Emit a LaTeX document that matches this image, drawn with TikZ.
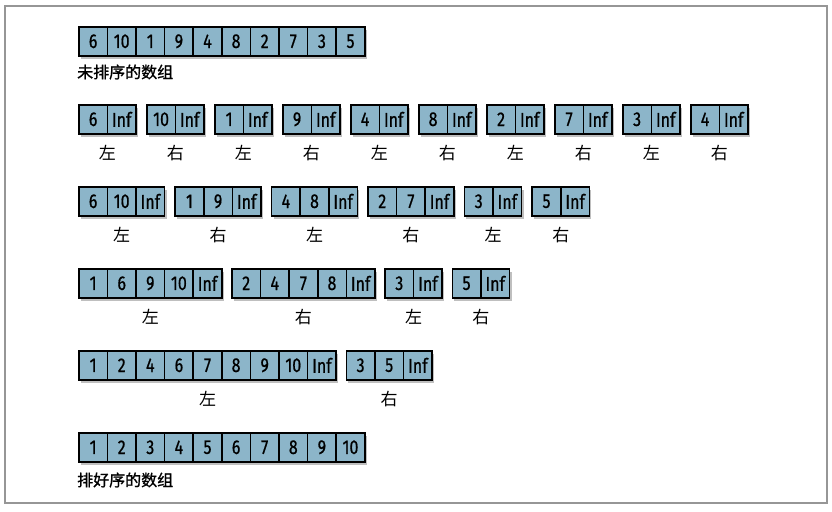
\documentclass[tikz,border=0pt]{standalone}
\usepackage{fontspec}
\newfontfamily\cjk{Noto Sans CJK SC}
\newfontfamily\cjkb[FakeBold=1.2]{Noto Sans CJK SC}
\newfontfamily\numfont[FakeStretch=0.8, FakeBold=0.7]{Fira Sans}
\usetikzlibrary{positioning,calc,shadows}
\definecolor{cellblue}{RGB}{140,181,201}
\definecolor{framegray}{RGB}{150,150,150}

\newcommand{\cellbox}[4]{%
  \node[arr, minimum width=#3*28.6pt, #2] (#1) {};
  \foreach \cv [count=\ci] in {#4}
    \node[cell, anchor=north west] (#1-\ci) at ($(#1.north west)+({(\ci-1)*28.6},0)$) {\cv};
}

\begin{document}
\begin{tikzpicture}[x=1pt,y=-1pt,
    arr/.style={draw=black, line width=1.6pt, fill=cellblue, minimum height=29pt, inner sep=0pt,
      drop shadow={opacity=.5, shadow xshift=2pt, shadow yshift=-3.5pt}},
    cell/.style={draw=black, line width=1.6pt, minimum width=28.6pt, minimum height=29pt, inner sep=0pt,
      font=\numfont\fontsize{20}{20}\selectfont},
    lbl/.style={font=\cjk\fontsize{17}{17}\selectfont, inner sep=0pt},
    title/.style={font=\cjkb\fontsize{16}{16}\selectfont, inner sep=0pt, anchor=west}]
        \useasboundingbox (0,0) rectangle (832,511);
        \draw[framegray, line width=1.2pt] (5,6) rectangle (827,503);

        \cellbox{b1}{anchor=north west, at={(78,26)}}{10}{6,10,1,9,4,8,2,7,3,5}
        \node[title] (t1) at (77,72) {未排序的数组};

        \foreach \n [count=\k] in {6,10,1,9,4,8,2,7,3,4}{
            \cellbox{b2-\k}{anchor=north west, at={(10+68*\k,104)}}{2}{\n,Inf}
            \node[lbl] (l2-\k) at ($(b2-\k.south)+(0,18)$) {\ifodd\k 左\else 右\fi};
        }

        \cellbox{b3-1}{anchor=north west, at={(78,186)}}{3}{6,10,Inf}
        \cellbox{b3-2}{right=9pt of b3-1}{3}{1,9,Inf}
        \cellbox{b3-3}{right=9pt of b3-2}{3}{4,8,Inf}
        \cellbox{b3-4}{right=9pt of b3-3}{3}{2,7,Inf}
        \cellbox{b3-5}{right=9pt of b3-4}{2}{3,Inf}
        \cellbox{b3-6}{right=9pt of b3-5}{2}{5,Inf}
        \foreach \k in {1,3,5} \node[lbl] (l3-\k) at ($(b3-\k.south)+(0,18)$) {左};
        \foreach \k in {2,4,6} \node[lbl] (l3-\k) at ($(b3-\k.south)+(0,18)$) {右};

        \cellbox{b4-1}{anchor=north west, at={(78,268)}}{5}{1,6,9,10,Inf}
        \cellbox{b4-2}{right=8.5pt of b4-1}{5}{2,4,7,8,Inf}
        \cellbox{b4-3}{right=8.5pt of b4-2}{2}{3,Inf}
        \cellbox{b4-4}{right=8.5pt of b4-3}{2}{5,Inf}
        \foreach \k in {1,3} \node[lbl] (l4-\k) at ($(b4-\k.south)+(0,18)$) {左};
        \foreach \k in {2,4} \node[lbl] (l4-\k) at ($(b4-\k.south)+(0,18)$) {右};

        \cellbox{b5-1}{anchor=north west, at={(78,350)}}{9}{1,2,4,6,7,8,9,10,Inf}
        \cellbox{b5-2}{right=8.5pt of b5-1}{3}{3,5,Inf}
        \node[lbl] (l5-1) at ($(b5-1.south)+(0,18)$) {左};
        \node[lbl] (l5-2) at ($(b5-2.south)+(0,18)$) {右};

        \cellbox{b6}{anchor=north west, at={(78,432)}}{10}{1,2,3,4,5,6,7,8,9,10}
        \node[title] (t2) at (77,480) {排好序的数组};
\end{tikzpicture}
\end{document}
